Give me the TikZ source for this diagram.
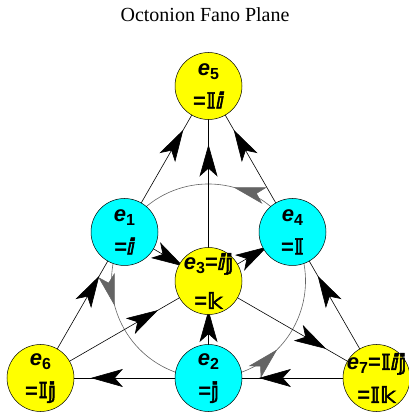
\documentclass[tikz,border=0pt]{standalone}
\usepackage{fontspec}
\setmainfont{Liberation Serif}
\newfontfamily\labfont{Liberation Sans}
\newfontfamily\dsfont[FakeBold=2.5]{DejaVu Sans}
\usetikzlibrary{arrows.meta,decorations.markings,backgrounds}
\definecolor{nodeyellow}{RGB}{255,255,0}
\definecolor{nodecyan}{RGB}{0,255,255}
\definecolor{circgray}{RGB}{100,100,100}
\newcommand{\eidx}[1]{\textbf{\textit{e}}\raisebox{-0.35ex}{\fontsize{16}{16}\selectfont\textbf{#1}}}
\newcommand{\dbl}[1]{{\dsfont\bfseries #1}}
\tikzset{
  disk/.style={circle,draw=black,line width=0.5pt,minimum size=67pt,inner sep=0pt},
  ydisk/.style={disk,fill=nodeyellow},
  cdisk/.style={disk,fill=nodecyan},
  lbl/.style={align=center,font=\labfont\bfseries\fontsize{22}{33}\selectfont,inner sep=0pt},
  edge/.style={draw=black,line width=0.6pt,postaction={decorate},
    decoration={markings,mark=at position 0.7 with {\arrow{Stealth[length=32pt,width=18pt,inset=8pt]}}}},
  ringarrows/.style={draw=circgray,line width=0.6pt,postaction={decorate},
    decoration={markings,
      mark=at position 0.125 with {\arrow[circgray]{Stealth[length=32pt,width=17pt,inset=8pt]}},
      mark=at position 0.458 with {\arrow[circgray]{Stealth[length=32pt,width=17pt,inset=8pt]}},
      mark=at position 0.792 with {\arrow[circgray]{Stealth[length=32pt,width=17pt,inset=8pt]}}}}
}
\begin{document}
\begin{tikzpicture}[x=1pt,y=1pt]
\useasboundingbox (0,0) rectangle (409,413);
\node[font=\fontsize{20}{24}\selectfont] (title) at (205,398) {Octonion Fano Plane};
% disks
\node[ydisk] (e5) at (208.5,327) {};
\node[cdisk] (e1) at (124.5,181) {};
\node[cdisk] (e4) at (292.5,181) {};
\node[ydisk] (e3) at (208.5,132) {};
\node[ydisk] (e6) at (40.5,35) {};
\node[cdisk] (e2) at (208.5,35) {};
\node[ydisk] (e7) at (376.5,35) {};
% labels
\node[lbl] (t5) at (e5) {\eidx{5}\\=\dbl{𝕀ⅈ}};
\node[lbl] (t1) at (e1) {\eidx{1}\\=\dbl{ⅈ}};
\node[lbl] (t4) at (e4) {\eidx{4}\\=\dbl{𝕀}};
\node[lbl] (t3) at (e3) {\eidx{3}=\dbl{ⅈ𝕛}\\[6pt]=\dbl{𝕜}};
\node[lbl] (t6) at (e6) {\eidx{6}\\=\dbl{𝕀𝕛}};
\node[lbl] (t2) at (e2) {\eidx{2}\\=\dbl{𝕛}};
\node[lbl] (t7) at (e7) {\eidx{7}=\dbl{𝕀ⅈ𝕛}\\=\dbl{𝕀𝕜}};
\begin{scope}[on background layer]
  \path[ringarrows] (e3.center) ++(30:97) arc[start angle=30,end angle=390,radius=97];
  \path[edge] (e6.center) -- (e1.center);
  \path[edge] (e1.center) -- (e5.center);
  \path[edge] (e7.center) -- (e4.center);
  \path[edge] (e4.center) -- (e5.center);
  \path[edge] (e2.center) -- (e3.center);
  \path[edge] (e3.center) -- (e5.center);
  \path[edge] (e2.center) -- (e6.center);
  \path[edge] (e7.center) -- (e2.center);
  \path[edge] (e1.center) -- (e3.center);
  \path[edge] (e3.center) -- (e7.center);
  \path[edge] (e6.center) -- (e3.center);
  \path[edge] (e3.center) -- (e4.center);
\end{scope}
\end{tikzpicture}
\end{document}
